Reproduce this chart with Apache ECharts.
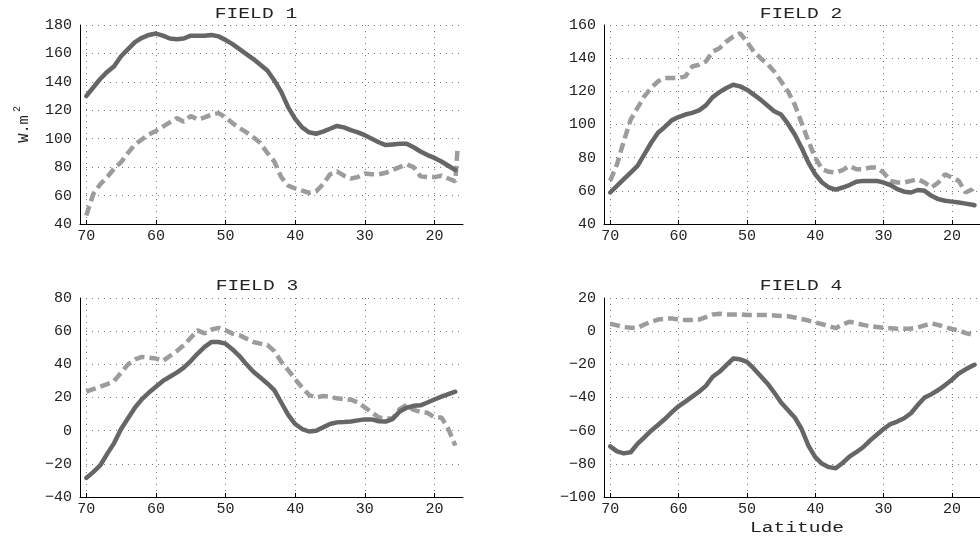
<!DOCTYPE html>
<html>
<head>
<meta charset="utf-8">
<script src="https://cdn.jsdelivr.net/npm/echarts@6/dist/echarts.min.js"></script>
<style>html,body{margin:0;padding:0;background:#fff}#c{width:980px;height:540px}</style>
</head>
<body>
<div id="c"></div>
<script>
// Latitude (degrees N), shared by all series
const LAT = [70,69,68,67,66,65,64,63,62,61,60,59,58,57,56,55,54,53,52,51,50,49,48,47,46,45,44,43,42,41,40,39,38,37,36,35,34,33,32,31,30,29,28,27,26,25,24,23,22,21,20,19,18,17,16.7];
const X_TICKS = [70,60,50,40,30,20];
const TITLES = ['FIELD 1','FIELD 2','FIELD 3','FIELD 4'];
const Y_RANGES = [[40,180],[40,160],[-40,80],[-100,20]];

const F1_SOLID = [130,136,142,147,151,158,163,168,171,173, 174,172.5,170.5,170,170.5,172.5,172.5,172.5,173,172, 169.5,166.5,163,159.5,156,152,148,141, 133,122,114,108,104.5,103.5,105,107,109,108, 106,104.5,102.5,100,97.5,95.5,96,96.5,96.5,94, 91,88.5,86.5,84,81,78, null];
const F1_DASH = [46,61,68,73,79,83.5,90,96,99.5,103, 105.5,108.5,111.5,114.5,112,116,113.5,115,117,118, 115,111,107.5,104.5,101,97,90,84, 73,67,65,63.5,62,63,68,75,77,74, 72,73,75.5,75,75,76,78,80,82,80, 73.5,73,73,74,72,70, 92];
const F2_SOLID = [59,63,67,71,75,82,89,95,98.5,102.5, 104.5,106,107,108.5,111.5,116.5,119.5,122,124,123, 121,118,115,111.5,108,106,100.5,94, 86,77,70,65,62,60.7,62,63.5,65.5,66, 66,66,65,63.5,61,59.5,59,60.5,60,57, 55,54,53.5,53,52.3,51.6, 51.3];
const F2_DASH = [66,76,90,103,110,117,122,126,128,128, 128,129,135,136,138,144,146,150,153,155, 150,144,140,136.5,132,126,120,112, 101,90,80,73,71.5,71,72.5,75,73,73, 74,74,71,66,65,65,66,67,65,62, 65,70,68,66,59,61, 63];
const F3_SOLID = [-28.5,-25,-21,-14,-7.5,1,7.5,14,19,23, 26.5,30,32.5,35,38,42,46.5,50.5,53.5,53.5, 52.5,49,45,40,35.5,32,28.5,24.5, 17,9.5,4,1,-0.5,0,2,4,5,5.2, 5.5,6.2,6.8,6.8,5.7,5.5,7,11.5,13.8,15, 15.3,17,18.8,20.5,22,23.5, null];
const F3_DASH = [23.5,25,26.5,28,30,35,40,43,44.5,44, 43.5,42,45,48,51.5,56,60.5,58.7,61,62, 60.5,58.5,57.5,55.5,53.5,52.5,51.7,48, 41.5,36.5,31,26,21.5,20,20.9,20.5,19.5,19, 18.7,17,14,11,8,7.4,7.4,13,15.5,12.5, 11.3,10.8,8,8,1,-9, null];
const F4_SOLID = [-69.5,-72.5,-73.7,-73,-68,-64,-60,-56.6,-53,-49, -45.3,-42.5,-39.5,-36.5,-33,-27.5,-24.5,-20.5,-16.5,-17, -18.5,-22.5,-27,-31.5,-37,-43,-47.5,-52, -59,-69,-76,-80,-82,-82.7,-79.5,-75.7,-73,-70, -66,-62.5,-59,-56,-54.5,-52.5,-49.5,-44.5,-40,-38, -35.5,-32.5,-29.3,-25.5,-23,-20.8, -20.3];
const F4_DASH = [4.5,3.5,2.5,2,2,4,5.7,7,7.5,7.7, 7,6.7,6.8,7,8.5,10,10.5,10,10,10.2, 9.7,9.7,9.7,9.7,9.5,9.2,9,8.2, 7.3,6.4,5.3,4.2,3,1.8,4,5.7,4.8,3.8, 3,2.5,2,1.8,1.5,1.5,1.6,2.2,3.5,4.7, 3.7,2.5,1.3,0.5,-1.2,-2, -0.5];

const SOLIDS = [F1_SOLID, F2_SOLID, F3_SOLID, F4_SOLID];
const DASHES = [F1_DASH, F2_DASH, F3_DASH, F4_DASH];

const FONT = '"Liberation Mono", "DejaVu Sans Mono", monospace';
const GRIDS = [
  {left: 80, top: 25, width: 383, height: 199},
  {left: 604, top: 25, width: 383, height: 199},
  {left: 80, top: 298, width: 383, height: 199},
  {left: 604, top: 298, width: 383, height: 199}
];
const TITLE_POS = [[256,14],[801,14],[257,286],[801,286]];

const fmt = v => String(v).replace('-', '\u2212');

const xAxes = [], yAxes = [], series = [];
for (let i = 0; i < 4; i++) {
  xAxes.push({
    gridIndex: i, type: 'value', inverse: true, min: 15.9, max: 70.9,
    axisLine: {show: true, onZero: false, lineStyle: {color: '#000', width: 1}},
    axisTick: {show: true, inside: true, length: 4, lineStyle: {color: '#000'}},
    axisLabel: {
      fontFamily: FONT, fontSize: 15, color: '#222', margin: 5,
      showMinLabel: false, showMaxLabel: false,
      formatter: v => (X_TICKS.indexOf(v) >= 0 ? fmt(v) : '')
    },
    splitLine: {show: true, showMinLine: false, showMaxLine: false, lineStyle: {type: [1, 5], color: '#777', width: 1}}
  });
  yAxes.push({
    gridIndex: i, type: 'value', min: Y_RANGES[i][0], max: Y_RANGES[i][1], interval: 20,
    axisLine: {show: true, onZero: false, lineStyle: {color: '#000', width: 1}},
    axisTick: {show: false},
    axisLabel: {fontFamily: FONT, fontSize: 15, color: '#222', margin: 8, formatter: v => fmt(v)},
    splitLine: {show: true, showMinLine: false, showMaxLine: true, lineStyle: {type: [1, 5], color: '#777', width: 1}}
  });
  series.push({
    type: 'line', xAxisIndex: i, yAxisIndex: i, symbol: 'none', z: 3,
    data: LAT.map((x, k) => [x, SOLIDS[i][k]]).filter(p => p[1] !== null),
    lineStyle: {color: '#666666', width: 4.5, cap: 'round', join: 'round'}
  });
  series.push({
    type: 'line', xAxisIndex: i, yAxisIndex: i, symbol: 'none', z: 2,
    data: LAT.map((x, k) => [x, DASHES[i][k]]).filter(p => p[1] !== null),
    lineStyle: {color: '#9c9c9c', width: 4.5, type: [10, 5], cap: 'butt'}
  });
}

const graphics = TITLES.map((t, i) => ({
  type: 'text', x: TITLE_POS[i][0], y: TITLE_POS[i][1], scaleX: 1.4,
  style: {text: t, font: '14px ' + FONT, fill: '#222', textAlign: 'center', textVerticalAlign: 'middle'}
}));
graphics.push({
  type: 'text', x: 797, y: 528, scaleX: 1.4,
  style: {text: 'Latitude', font: '14px ' + FONT, fill: '#222', textAlign: 'center', textVerticalAlign: 'middle'}
});
graphics.push({
  type: 'text', x: 24, y: 129, rotation: Math.PI / 2, scaleX: 1.1,
  style: {text: 'W.m', font: '14px ' + FONT, fill: '#222', textAlign: 'center', textVerticalAlign: 'middle'}
});
graphics.push({
  type: 'text', x: 17, y: 109, rotation: Math.PI / 2,
  style: {text: '2', font: '10px ' + FONT, fill: '#222', textAlign: 'center', textVerticalAlign: 'middle'}
});

const chart = echarts.init(document.getElementById('c'), null, {renderer: 'canvas'});
chart.setOption({
  animation: false,
  backgroundColor: '#fff',
  grid: GRIDS,
  xAxis: xAxes,
  yAxis: yAxes,
  series: series,
  graphic: graphics
});
</script>
</body>
</html>
